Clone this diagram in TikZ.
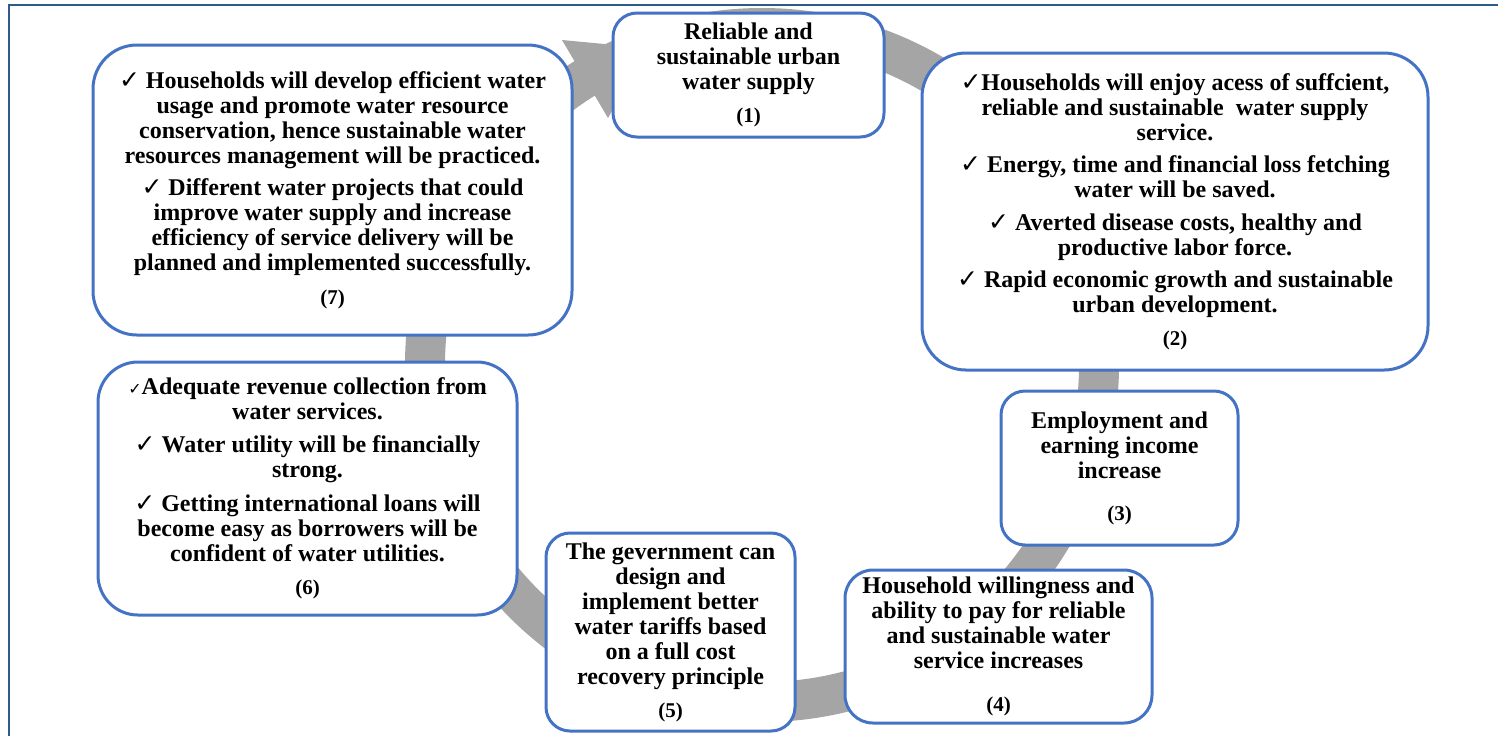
\documentclass[tikz,border=0pt]{standalone}
\usepackage{fontspec}
\setmainfont{Liberation Serif}
\newfontfamily\ckfont{DejaVu Sans}
\definecolor{boxblue}{HTML}{4472C4}
\definecolor{bandgray}{HTML}{A5A5A5}
\definecolor{framecol}{HTML}{2E5C8A}
\newcommand{\ck}{{\ckfont\mdseries\fontsize{12.5}{12.5}\selectfont ✓}}
\newcommand{\smallck}{{\ckfont\mdseries\fontsize{8}{12.5}\selectfont ✓}}
\newcommand{\numlabel}[1]{{\fontsize{10.5}{12.5}\selectfont(#1)}}
\tikzset{
  box/.style={draw=boxblue, line width=1.5pt, fill=white, rounded corners=#1,
    align=center, inner sep=0pt,
    font=\bfseries\fontsize{12}{12.5}\selectfont},
  box/.default=12pt,
  band/.style={draw=bandgray, line width=20pt},
  framestyle/.style={draw=framecol, line width=1.2pt},
}
\begin{document}
\begin{tikzpicture}[x=0.5pt,y=-0.5pt]
\useasboundingbox (0,0) rectangle (1498,736);
% frame
\coordinate (fbl) at (9,736);
\coordinate (ftl) at (9,5);
\coordinate (ftr) at (1498,5);
\draw[framestyle] (fbl) -- (ftl) -- (ftr);
% circular band with arrowhead
\coordinate (c) at (762,365);
\draw[band] (c) circle[radius=337];
\coordinate (ahout) at (562,40);
\coordinate (ahin) at (608,118);
\coordinate (ahtip) at (647,48);
\fill[bandgray] (ahout) -- (ahtip) -- (ahin) -- cycle;
% boxes
\node[box, minimum width=135.5pt, minimum height=62pt] (n1) at (748.5,75)
  {Reliable and\\sustainable urban\\water supply\\[4pt]\numlabel{1}};
\node[box=22pt, minimum width=253pt, minimum height=158.5pt] (n2) at (1175,211.5)
  {\ck Households will enjoy acess of suffcient,\\
   reliable and sustainable~ water supply\\
   service.\\[3.5pt]
   \ck\ Energy, time and financial loss fetching\\
   water will be saved.\\[4pt]
   \ck\ Averted disease costs, healthy and\\
   productive labor force.\\[3.5pt]
   \ck\ Rapid economic growth and sustainable\\
   urban development.\\[4pt]
   \numlabel{2}};
\node[box, minimum width=118.5pt, minimum height=77pt] (n3) at (1119.5,468)
  {Employment and\\earning income\\increase\\[8.5pt]\numlabel{3}};
\node[box=14pt, minimum width=153.5pt, minimum height=76.5pt] (n4) at (998.5,646.5)
  {Household willingness and\\ability to pay for reliable\\and sustainable water\\service increases\\[9pt]\numlabel{4}};
\node[box, minimum width=124.5pt, minimum height=99pt] (n5) at (670.5,632)
  {The gevernment can\\design and\\implement better\\water tariffs based\\on a full cost\\recovery principle\\[4pt]\numlabel{5}};
\node[box=20pt, minimum width=209.5pt, minimum height=126.5pt] (n6) at (307.5,488.5)
  {\smallck Adequate revenue collection from\\
   water services.\\[4pt]
   \ck\ Water utility will be financially\\
   strong.\\[4.5pt]
   \ck\ Getting international loans will\\
   become easy as borrowers will be\\
   confident of water utilities.\\[4pt]
   \numlabel{6}};
\node[box=22pt, minimum width=239.5pt, minimum height=145pt] (n7) at (332.5,190)
  {\ck\ Households will develop efficient water\\
   usage and promote water resource\\
   conservation, hence sustainable water\\
   resources management will be practiced.\\[3.5pt]
   \ck\ Different water projects that could\\
   improve water supply and increase\\
   efficiency of service delivery will be\\
   planned and implemented successfully.\\[4.5pt]
   \numlabel{7}};
\end{tikzpicture}
\end{document}
